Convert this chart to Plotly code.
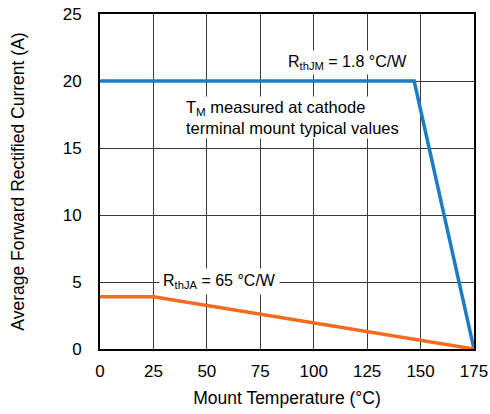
import plotly.graph_objects as go

temp_jm = [0, 147, 175]
curr_jm = [20, 20, 0]
temp_ja = [0, 25, 175]
curr_ja = [3.9, 3.9, 0]
x_ticks = [0, 25, 50, 75, 100, 125, 150, 175]
y_ticks = [0, 5, 10, 15, 20, 25]

FONT = "Liberation Sans, Arial, sans-serif"

fig = go.Figure()
fig.add_trace(go.Scatter(x=temp_jm, y=curr_jm, mode="lines", cliponaxis=False,
                         line=dict(color="#1b7dc3", width=3.5), showlegend=False))
fig.add_trace(go.Scatter(x=temp_ja, y=curr_ja, mode="lines", cliponaxis=False,
                         line=dict(color="#f26b21", width=3.5), showlegend=False))

fig.add_annotation(x=116, y=21.4, xref="x", yref="y",
                   text="R<sub>thJM</sub> = 1.8 °C/W", showarrow=False,
                   font=dict(family=FONT, size=16, color="black"),
                   bgcolor="white", borderpad=2)
fig.add_annotation(x=39.5, y=17.3, xref="x", yref="y", xanchor="left",
                   text="T<sub>M</sub> measured at cathode<br>terminal mount typical values",
                   showarrow=False, align="left",
                   font=dict(family=FONT, size=16.5, color="black"),
                   bgcolor="white", borderpad=1)
fig.add_annotation(x=56, y=5.05, xref="x", yref="y",
                   text="R<sub>thJA</sub> = 65 °C/W", showarrow=False,
                   font=dict(family=FONT, size=16, color="black"),
                   bgcolor="white", borderpad=3)

fig.update_xaxes(range=[0, 175], tickvals=x_ticks, showgrid=True, automargin=False,
                 gridcolor="#3a3a3a", gridwidth=1, showline=True, linecolor="black",
                 linewidth=2, mirror=True, zeroline=False, ticks="outside", ticklen=6,
                 tickcolor="rgba(0,0,0,0)", ticklabeloverflow="allow",
                 title=dict(text="Mount Temperature (°C)", font=dict(family=FONT, size=17.5, color="black"), standoff=11),
                 tickfont=dict(family=FONT, size=17, color="black"))
fig.update_yaxes(range=[0, 25], tickvals=y_ticks, showgrid=True, automargin=False,
                 gridcolor="#3a3a3a", gridwidth=1, showline=True, linecolor="black",
                 linewidth=2, mirror=True, zeroline=False, ticks="outside", ticklen=13,
                 tickcolor="rgba(0,0,0,0)", ticklabeloverflow="allow",
                 title=dict(text="Average Forward Rectified Current (A)", font=dict(family=FONT, size=17.5, color="black"), standoff=34),
                 tickfont=dict(family=FONT, size=17, color="black"))

fig.update_layout(width=490, height=414, margin=dict(l=100, r=16, t=14, b=65),
                  plot_bgcolor="white", paper_bgcolor="white",
                  font=dict(family=FONT, color="black"))
fig.write_html("out.html", config={"displayModeBar": False},
               post_script="document.body.style.margin='0';document.body.style.overflow='hidden';")
